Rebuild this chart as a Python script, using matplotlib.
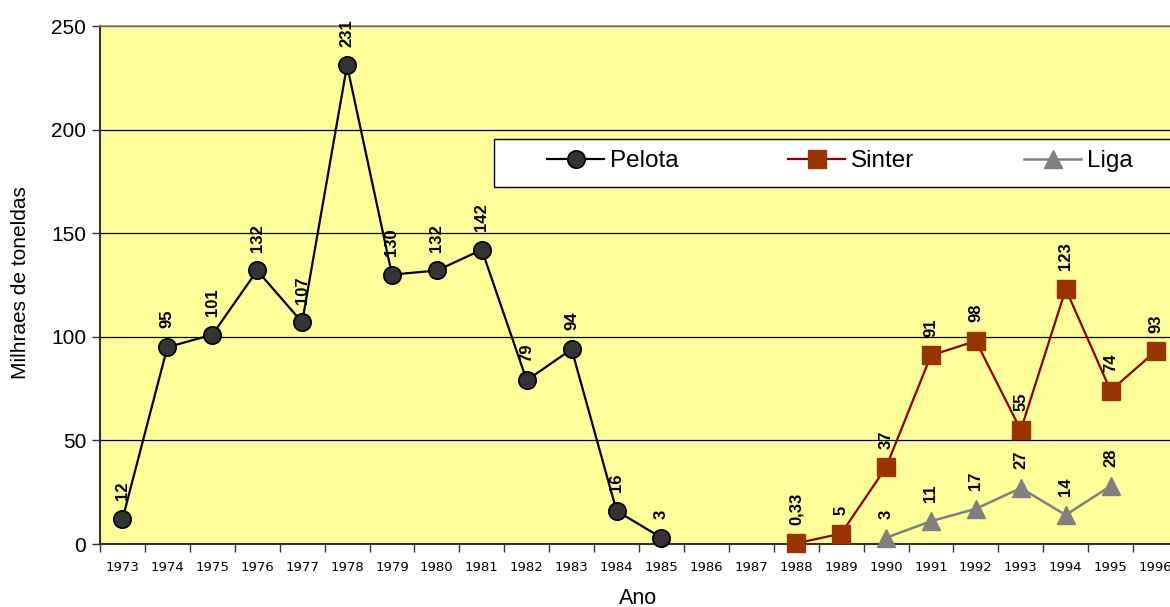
import matplotlib
matplotlib.use("Agg")
import matplotlib.pyplot as plt
from matplotlib.patches import Rectangle

plt.rcParams['font.family'] = ['Liberation Sans', 'DejaVu Sans']

anos = [str(a) for a in range(1973, 1997)]

pelota_anos = list(range(1973, 1986))
pelota = [12, 95, 101, 132, 107, 231, 130, 132, 142, 79, 94, 16, 3]
pelota_rot = ["12", "95", "101", "132", "107", "231", "130", "132", "142", "79", "94", "16", "3"]

sinter_anos = list(range(1988, 1997))
sinter = [0.33, 5, 37, 91, 98, 55, 123, 74, 93]
sinter_rot = ["0,33", "5", "37", "91", "98", "55", "123", "74", "93"]

liga_anos = list(range(1990, 1996))
liga = [3, 11, 17, 27, 14, 28]
liga_rot = ["3", "11", "17", "27", "14", "28"]

W, H = 1170, 607
fig = plt.figure(figsize=(W / 100, H / 100), dpi=100)
fig.patch.set_facecolor("white")

left, right, top, bottom = 100, 1178, 26, 544
ax = fig.add_axes([left / W, 1 - bottom / H, (right - left) / W, (bottom - top) / H])
ax.set_facecolor("#FFFF99")

def idx(years):
    return [y - 1973 for y in years]

ax.plot(idx(pelota_anos), pelota, color="black", lw=1.6, marker="o", ms=12.5,
        mfc="#333333", mec="black", mew=1.2, zorder=4, label="Pelota", clip_on=False)
ax.plot(idx(sinter_anos), sinter, color="#8B0000", lw=1.6, marker="s", ms=12.5,
        mfc="#993300", mec="#993300", zorder=4, label="Sinter", clip_on=False)
ax.plot(idx(liga_anos), liga, color="#808080", lw=1.8, marker="^", ms=13.5,
        mfc="#808080", mec="#808080", zorder=4, label="Liga", clip_on=False)

for years, vals, txts in [(pelota_anos, pelota, pelota_rot),
                          (sinter_anos, sinter, sinter_rot),
                          (liga_anos, liga, liga_rot)]:
    for x, v, t in zip(idx(years), vals, txts):
        ax.annotate(t, (x, v), xytext=(0, 13.5), textcoords="offset points",
                    rotation=90, ha="center", va="bottom", fontsize=12,
                    fontweight="bold", color="black", zorder=5,
                    annotation_clip=False)

ax.set_xlim(-0.5, len(anos) - 0.5)
ax.set_ylim(0, 250)
ax.set_yticks([0, 50, 100, 150, 200, 250])
ax.tick_params(axis="y", labelsize=15, length=6, width=1, color="#333333", pad=4)
ax.set_xticks(range(len(anos)))
ax.set_xticklabels(anos, fontsize=9.5, family="DejaVu Sans")
ax.set_xticks([i - 0.5 for i in range(len(anos) + 1)], minor=True)
ax.tick_params(axis="x", which="major", length=0, pad=12)
ax.tick_params(axis="x", which="minor", length=6, width=1, color="#333333")

ax.yaxis.grid(True, color="black", lw=0.9)
ax.set_axisbelow(True)

ax.spines["left"].set_color("#333333")
ax.spines["left"].set_linewidth(1.5)
ax.spines["bottom"].set_color("#333333")
ax.spines["bottom"].set_linewidth(1.5)
ax.spines["top"].set_color("#808080")
ax.spines["top"].set_linewidth(1.2)
ax.spines["right"].set_visible(False)

fig.text(20 / W, 1 - 283 / H, "Milhraes de toneldas", rotation=90,
         ha="center", va="center", fontsize=15)
fig.text(638 / W, 1 - 598 / H, "Ano", ha="center", va="center", fontsize=15.5)

# legend box
lx0, ly0, lx1, ly1 = 494, 139, 1195, 187
fig.patches.append(Rectangle((lx0 / W, 1 - ly1 / H), (lx1 - lx0) / W, (ly1 - ly0) / H,
                             transform=fig.transFigure, facecolor="white",
                             edgecolor="black", lw=1.0, zorder=6))
leg = fig.legend(loc="center left", bbox_to_anchor=(547 / W, 1 - 161 / H),
                 ncol=3, frameon=False, fontsize=17.5, handlelength=2.35,
                 handletextpad=0.25, columnspacing=4.5, borderpad=0,
                 borderaxespad=0)
leg.set_zorder(7)

fig.savefig("out.png", dpi=100)
